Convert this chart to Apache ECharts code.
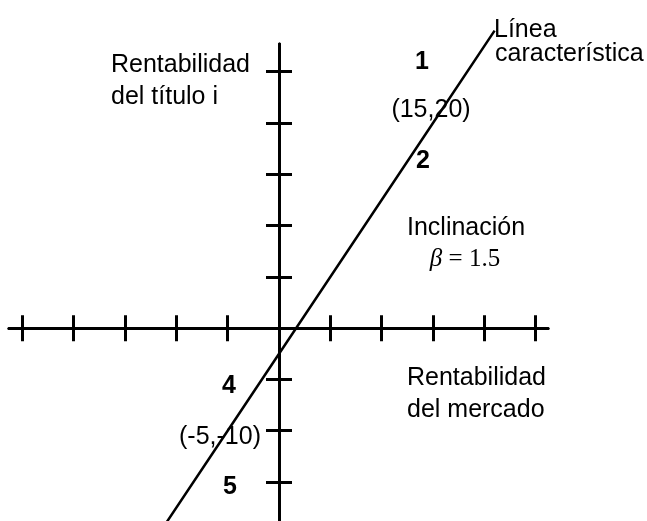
<!DOCTYPE html>
<html lang="es">
<head>
<meta charset="UTF-8">
<title>Línea característica</title>
<script src="https://cdn.jsdelivr.net/npm/echarts@6/dist/echarts.min.js"></script>
<style>html,body{margin:0;padding:0;background:#fff;}</style>
</head>
<body>
<div id="main" style="width:647px;height:521px;"></div>
<script type="text/javascript">
    // puntos de la recta: rentabilidad del mercado (x) y del título i (y)
    var mercado = [-11, -5, 15, 21];
    var titulo = [-19, -10, 20, 29];
    // marcas de los ejes (cada 5 %)
    var xTicks = [-25, -20, -15, -10, -5, 5, 10, 15, 20, 25];
    var yTicks = [-15, -10, -5, 5, 10, 15, 20, 25];

    var sans = "'Liberation Sans', Arial, sans-serif";
    var serif = "'Liberation Serif', 'Times New Roman', serif";

    var points = [];
    for (var i = 0; i < mercado.length; i++) {
        points.push([mercado[i], titulo[i]]);
    }

    // eje con marcas hacia un solo lado; se usan dos por dirección para dibujar las cruces
    function eje(pos, ticks, min, max) {
        return {
            type: 'value',
            position: pos,
            min: min,
            max: max,
            axisLine: {onZero: true, onZeroAxisIndex: 0, lineStyle: {color: '#000', width: 3}},
            axisTick: {show: true, customValues: ticks, length: 13, inside: false,
                lineStyle: {color: '#000', width: 3}},
            axisLabel: {show: false},
            splitLine: {show: false}
        };
    }

    function texto(txt, x, y, opts) {
        opts = opts || {};
        return {
            type: 'text',
            z: 10,
            style: {
                text: txt,
                x: x,
                y: y,
                font: (opts.bold ? 'bold ' : '') + (opts.size || 25) + 'px ' + (opts.family || sans),
                fill: '#000',
                align: opts.align || 'left',
                verticalAlign: 'middle'
            }
        };
    }

    var myChart = echarts.init(document.getElementById('main'));
    myChart.setOption({
        animation: false,
        grid: {left: 9, right: 99, top: 44, bottom: 0, outerBoundsMode: 'none'},
        xAxis: [eje('bottom', xTicks, -26.3, 26.2), eje('top', xTicks, -26.3, 26.2)],
        yAxis: [eje('left', yTicks, -18.8, 27.7), eje('right', yTicks, -18.8, 27.7)],
        series: [{
            type: 'line',
            data: points,
            showSymbol: false,
            clip: false,
            lineStyle: {color: '#000', width: 2.5}
        }],
        graphic: [
            texto('Rentabilidad', 111, 65),
            texto('del título i', 111, 97),
            texto('Línea', 494, 30),
            texto('característica', 495, 54),
            texto('1', 422, 62, {bold: true, align: 'center'}),
            texto('(15,20)', 431, 110, {align: 'center'}),
            texto('2', 423, 161, {bold: true, align: 'center'}),
            texto('Inclinación', 407, 228),
            {
                type: 'text',
                z: 10,
                style: {
                    text: '{b|β} = 1.5',
                    x: 465,
                    y: 259,
                    align: 'center',
                    verticalAlign: 'middle',
                    font: '25px ' + serif,
                    fill: '#000',
                    rich: {b: {font: 'italic 25px ' + serif, fill: '#000'}}
                }
            },
            texto('Rentabilidad', 407, 378),
            texto('del mercado', 407, 410),
            texto('4', 229, 386, {bold: true, align: 'center'}),
            texto('(-5,-10)', 220, 437, {align: 'center'}),
            texto('5', 230, 487, {bold: true, align: 'center'})
        ]
    });
</script>
</body>
</html>
